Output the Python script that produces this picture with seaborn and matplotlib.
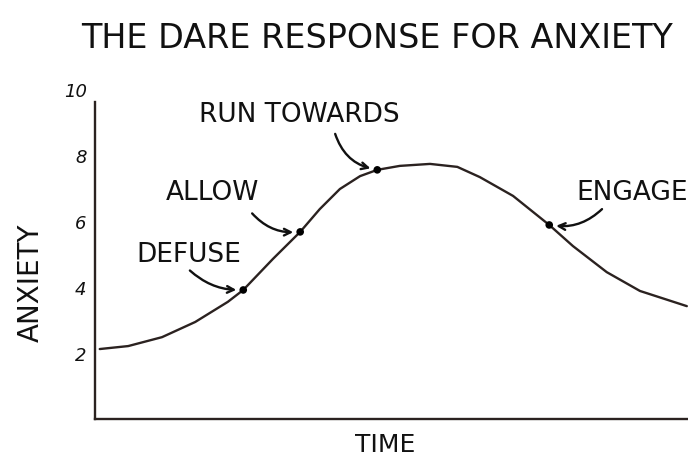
import pandas as pd
import numpy as np
import matplotlib.pyplot as plt
import seaborn as sns

# Curve (time in arbitrary units 0-100, anxiety 0-10)
time = [0.8, 5.6, 11.3, 16.9, 22.4, 25.0, 30.0, 34.6, 37.9, 41.3, 44.7,
        47.6, 51.4, 56.5, 61.1, 64.9, 70.5, 76.6, 80.6, 86.3, 91.9, 99.8]
anxiety = [2.12, 2.21, 2.48, 2.94, 3.55, 3.91, 4.85, 5.67, 6.36, 6.97, 7.36,
           7.55, 7.67, 7.73, 7.64, 7.33, 6.76, 5.88, 5.24, 4.45, 3.88, 3.42]

# Labelled steps and which curve point they sit on
steps = ["DEFUSE", "ALLOW", "RUN TOWARDS", "ENGAGE"]
step_idx = [5, 7, 11, 17]

yticks = [2, 4, 6, 8, 10]

ink = "#2b2220"

df = pd.DataFrame({"time": time, "anxiety": anxiety})
pts = df.iloc[step_idx].assign(step=steps)

sns.set_theme(style="white")
plt.rcParams["font.family"] = ["DejaVu Sans"]

fig = plt.figure(figsize=(6.88, 4.6), dpi=100)
ax = fig.add_axes([95 / 688, 40 / 460, 593 / 688, 330 / 460])

sns.lineplot(data=df, x="time", y="anxiety", sort=False, estimator=None,
             color=ink, linewidth=1.7, ax=ax)
sns.scatterplot(data=pts, x="time", y="anxiety", color="black", s=30,
                edgecolor="none", ax=ax, zorder=3)

ax.set_xlim(0, 100)
ax.set_ylim(0, 10)
ax.set_xticks([])
ax.set_yticks(yticks)
ax.set_yticklabels([str(t) for t in yticks], fontsize=13, style="italic", color="#111")
ax.tick_params(axis="y", length=0, pad=6)

for s in ["top", "right"]:
    ax.spines[s].set_visible(False)
for s in ["left", "bottom"]:
    ax.spines[s].set_color(ink)
    ax.spines[s].set_linewidth(1.7)
ax.spines["left"].set_bounds(0, 9.6)

ax.set_xlabel("TIME", fontsize=18, color="#111")
ax.xaxis.set_label_coords(0.49, -0.04)
ax.set_ylabel("ANXIETY", fontsize=20, color="#111")
ax.yaxis.set_label_coords(-0.085, 0.415)

# text positions (axes fraction) and arrow curvature per step
text_pos = {
    "DEFUSE": (0.07, 0.50),
    "ALLOW": (0.12, 0.688),
    "RUN TOWARDS": (0.175, 0.924),
    "ENGAGE": (1.0, 0.688),
}
arrow_from = {
    "DEFUSE": (0.16, 0.45),
    "ALLOW": (0.265, 0.623),
    "RUN TOWARDS": (0.405, 0.864),
    "ENGAGE": (0.855, 0.636),
}
rads = {"DEFUSE": 0.2, "ALLOW": 0.25, "RUN TOWARDS": 0.3, "ENGAGE": -0.25}

for _, r in pts.iterrows():
    name = r["step"]
    ax.text(*text_pos[name], name, transform=ax.transAxes, fontsize=19,
            color="#111", ha="left" if name != "ENGAGE" else "right", va="center")
    ax.annotate("", xy=(r["time"], r["anxiety"]), xycoords="data",
                xytext=arrow_from[name], textcoords="axes fraction",
                arrowprops=dict(arrowstyle="->", color="#111", lw=1.7,
                                shrinkA=0, shrinkB=5,
                                connectionstyle=f"arc3,rad={rads[name]}"))

fig.text(0.548, 0.917, "THE DARE RESPONSE FOR ANXIETY", ha="center", va="center",
         fontsize=24, color="#111")

fig.savefig("out.png", dpi=100, facecolor="white")
